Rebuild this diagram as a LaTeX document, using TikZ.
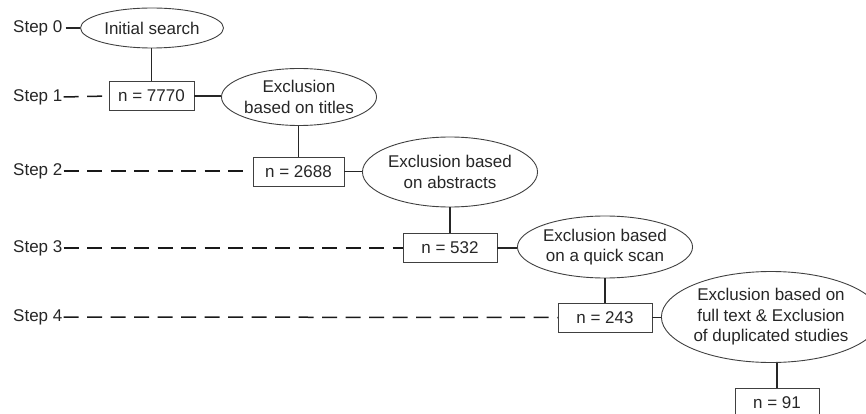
\documentclass[tikz,border=0pt]{standalone}
\usepackage{fontspec}
\setmainfont{Liberation Sans}
\usetikzlibrary{shapes.geometric}
\begin{document}
\begin{tikzpicture}[x=1pt,y=-1pt,
  every node/.style={font=\fontsize{17}{20.5}\selectfont, text=black!85},
  ell/.style={ellipse, draw=black!75, line width=0.9pt, inner sep=0pt, align=center},
  cbox/.style={rectangle, draw=black!75, line width=0.9pt, inner sep=0pt, minimum height=29pt},
  lbl/.style={anchor=west, inner sep=0pt},
  conn/.style={draw=black!85, line width=1.4pt},
  dconn/.style={draw=black!90, line width=1.5pt, dash pattern=on 15pt off 8.5pt}]
\useasboundingbox (0,0) rectangle (866,414);

% step labels
\node[lbl] (s0) at (13,28) {Step 0};
\node[lbl] (s1) at (13,97) {Step 1};
\node[lbl] (s2) at (13,171) {Step 2};
\node[lbl] (s3) at (13,248) {Step 3};
\node[lbl] (s4) at (13,317) {Step 4};

% ellipses
\node[ell, minimum width=143pt, minimum height=40pt] (e0) at (152,28) {Initial search};
\node[ell, minimum width=153pt, minimum height=57pt] (e1) at (299,97) {Exclusion\\based on titles};
\node[ell, minimum width=165pt, minimum height=70pt] (e2) at (450,172) {Exclusion based\\on abstracts};
\node[ell, minimum width=163pt, minimum height=62pt] (e3) at (605,247) {Exclusion based\\on a quick scan};
\node[ell, minimum width=188pt, minimum height=91pt] (e4) at (771,317) {Exclusion based on\\full text \& Exclusion\\of duplicated studies};

% boxes
\node[cbox, minimum width=85pt] (b1) at (151.5,96) {n = 7770};
\node[cbox, minimum width=91pt] (b2) at (298.5,171.5) {n = 2688};
\node[cbox, minimum width=94pt] (b3) at (450,248) {n = 532};
\node[cbox, minimum width=94pt] (b4) at (605,317.5) {n = 243};
\node[cbox, minimum width=84pt] (b5) at (777,402.5) {n = 91};

% solid connectors
\draw[conn] ([xshift=3pt]s0.east) -- (e0.west);
\draw[conn] (e0.south -| b1.north) -- (b1.north);
\draw[conn] (b1.east) -- (b1.east -| e1.west);
\draw[conn] (e1.south -| b2.north) -- (b2.north);
\draw[conn] (b2.east) -- (b2.east -| e2.west);
\draw[conn] (e2.south -| b3.north) -- (b3.north);
\draw[conn] (b3.east) -- (b3.east -| e3.west);
\draw[conn] (e3.south -| b4.north) -- (b4.north);
\draw[conn] (b4.east) -- (b4.east -| e4.west);
\draw[conn] (e4.south -| b5.north) -- (b5.north);

% dashed step lines
\coordinate (d2) at (244,171);
\draw[dconn] ([xshift=1pt]s1.east) -- (b1.west);
\draw[dconn] ([xshift=1pt]s2.east) -- (d2);
\draw[dconn] ([xshift=1pt]s3.east) -- (b3.west);
\draw[dconn] ([xshift=1pt]s4.east) -- (b4.west);
\end{tikzpicture}
\end{document}
